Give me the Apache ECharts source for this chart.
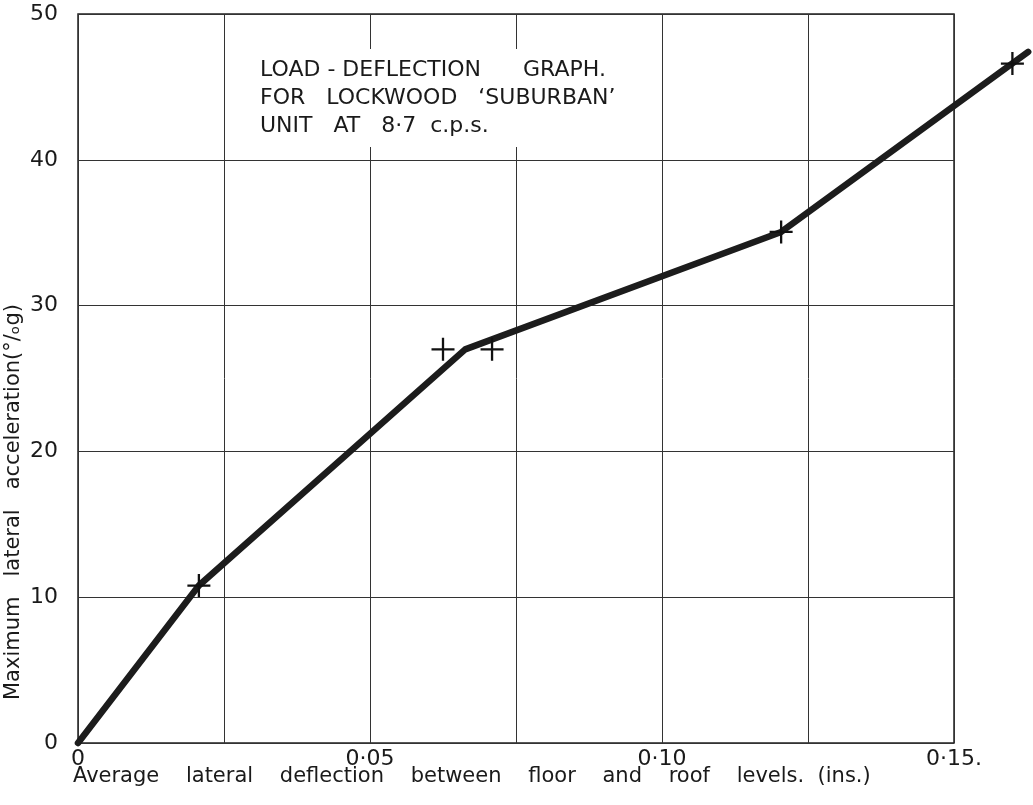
<!DOCTYPE html>
<html>
<head>
<meta charset="utf-8">
<script src="https://cdn.jsdelivr.net/npm/echarts@6/dist/echarts.min.js"></script>
<style>
html,body{margin:0;padding:0;background:#fff;}
#chart{width:1033px;height:805px;}
</style>
</head>
<body>
<div id="chart"></div>
<script>
// Curve vertices (deflection in inches, acceleration in % g)
var lineX = [0, 0.0207, 0.0663, 0.1204, 0.1627];
var lineY = [0, 10.8, 27.0, 35.05, 47.4];
// Measured points ('+' marks)
var pointX = [0.0207, 0.0625, 0.0709, 0.1204, 0.1600];
var pointY = [10.8, 27.0, 27.0, 35.05, 46.6];
// Tick labels
var xTickLabels = ['0', '', '0·05', '', '0·10', '', '0·15.'];
var yTickLabels = ['0', '10', '20', '30', '40', '50'];
var titleLines = ['LOAD - DEFLECTION      GRAPH.', 'FOR   LOCKWOOD   \u2018SUBURBAN\u2019', 'UNIT   AT   8\u00b77  c.p.s.'];
var xAxisTitle = 'Average    lateral    deflection    between    floor    and    roof    levels.  (ins.)';
var yAxisTitle = 'Maximum   lateral   acceleration(\u00b0/\u2092g)';

var FONT = '"DejaVu Sans", sans-serif';
var INK = '#1a1a1a';

var W = 1033, L = 78, R = 79;
var plotW = W - L - R;          // width of the framed plot
var extW = W - L;               // width available to the curve (runs past the frame)
var xMax = 0.15;
var xMaxExt = xMax * extW / plotW;

var chart = echarts.init(document.getElementById('chart'));
chart.setOption({
  backgroundColor: '#fff',
  animation: false,
  title: {
    text: titleLines.join('\n'),
    left: 248,
    top: 49,
    padding: [7, 12, 7, 12],
    backgroundColor: '#fff',
    textStyle: {
      fontFamily: FONT, fontSize: 22, fontWeight: 'normal', color: INK, lineHeight: 28
    }
  },
  grid: [
    { left: L, right: R, top: 14, bottom: 62, show: true, borderColor: '#222', borderWidth: 1.5, backgroundColor: 'transparent' },
    { left: L, right: 0, top: 14, bottom: 62, show: false }
  ],
  xAxis: [
    {
      type: 'value', gridIndex: 0, min: 0, max: xMax, interval: 0.025,
      axisLine: { show: false },
      axisTick: { show: false },
      splitLine: { show: true, lineStyle: { color: '#333', width: 1 } },
      axisLabel: {
        fontFamily: FONT, fontSize: 22, color: INK, margin: 5,
        showMaxLabel: true, showMinLabel: true,
        formatter: function (v) { return xTickLabels[Math.round(v / 0.025)] || ''; }
      }
    },
    {
      type: 'value', gridIndex: 1, min: 0, max: xMaxExt, show: false,
      splitLine: { show: false }
    }
  ],
  yAxis: [
    {
      type: 'value', gridIndex: 0, min: 0, max: 50, interval: 10,
      axisLine: { show: false },
      axisTick: { show: false },
      splitLine: { show: true, lineStyle: { color: '#333', width: 1 } },
      axisLabel: {
        fontFamily: FONT, fontSize: 22, color: INK, margin: 20,
        formatter: function (v) { return yTickLabels[Math.round(v / 10)]; }
      }
    },
    {
      type: 'value', gridIndex: 1, min: 0, max: 50, show: false,
      splitLine: { show: false }
    }
  ],
  graphic: [
    {
      type: 'text', left: 73, top: 766, z: 10,
      style: { text: xAxisTitle, font: '21px ' + FONT, fill: INK }
    },
    {
      type: 'text', x: 14, y: 502, rotation: Math.PI / 2, z: 10,
      style: { text: yAxisTitle, font: '21px ' + FONT, fill: INK, align: 'center', verticalAlign: 'middle' }
    }
  ],
  series: [
    {
      type: 'line',
      xAxisIndex: 1, yAxisIndex: 1,
      data: lineX.map(function (x, i) { return [x, lineY[i]]; }),
      showSymbol: false,
      symbol: 'none',
      clip: false,
      lineStyle: { color: '#1c1c1c', width: 6.5, join: 'round', cap: 'round' },
      z: 3
    },
    {
      type: 'scatter',
      xAxisIndex: 1, yAxisIndex: 1,
      data: pointX.map(function (x, i) { return [x, pointY[i]]; }),
      symbol: 'path://M-1,-10h2v20h-2zM-10,-1h20v2h-20z',
      symbolSize: 23,
      clip: false,
      itemStyle: { color: '#111', opacity: 1 },
      z: 4
    }
  ]
});
</script>
</body>
</html>
